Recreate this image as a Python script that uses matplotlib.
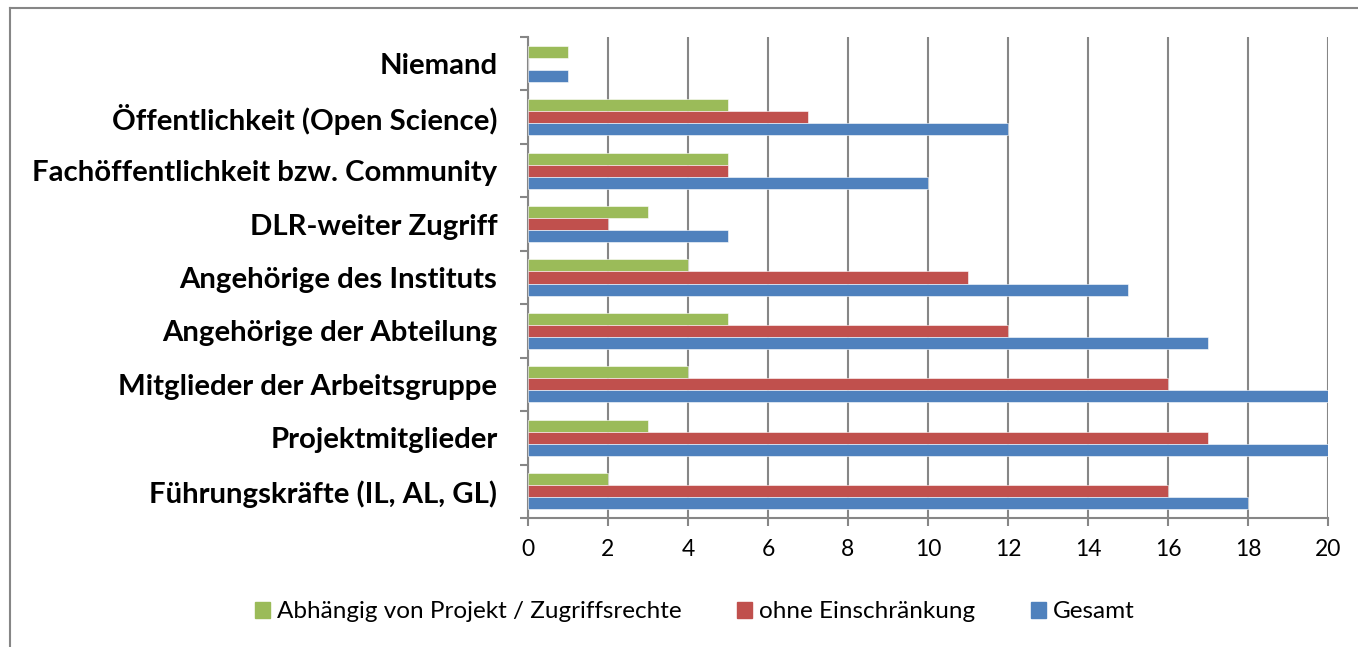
import numpy as np
import matplotlib.pyplot as plt
from matplotlib.lines import Line2D
from matplotlib.patches import Patch

# Kategorien von unten nach oben
kategorien = [
    "Führungskräfte (IL, AL, GL)",
    "Projektmitglieder",
    "Mitglieder der Arbeitsgruppe",
    "Angehörige der Abteilung",
    "Angehörige des Instituts",
    "DLR-weiter Zugriff",
    "Fachöffentlichkeit bzw. Community",
    "Öffentlichkeit (Open Science)",
    "Niemand",
]
abhaengig = [2, 3, 4, 5, 4, 3, 5, 5, 1]
ohne_einschraenkung = [16, 17, 16, 12, 11, 2, 5, 7, 0]
gesamt = [18, 20, 20, 17, 15, 5, 10, 12, 1]
x_ticks = [0, 2, 4, 6, 8, 10, 12, 14, 16, 18, 20]

GRUEN = "#9BBB59"
ROT = "#C0504D"
BLAU = "#4F81BD"
GRAU = "#868686"

plt.rcParams['font.family'] = ['Lato', 'DejaVu Sans']

fig = plt.figure(figsize=(13.58, 6.47), dpi=100)
ax = fig.add_axes([528 / 1358, 1 - 518 / 647, 800 / 1358, 481 / 647])

y = np.arange(len(kategorien))
h = 12 / 53.4

ax.barh(y + h, abhaengig, height=h, color=GRUEN, edgecolor="white", linewidth=0.4, zorder=3)
ax.barh(y, ohne_einschraenkung, height=h, color=ROT, edgecolor="white", linewidth=0.4, zorder=3)
ax.barh(y - h, gesamt, height=h, color=BLAU, edgecolor="white", linewidth=0.4, zorder=3)

ax.set_xlim(0, 20)
ax.set_ylim(-0.5, len(kategorien) - 0.5)
ax.set_xticks(x_ticks)
ax.set_xticklabels([str(t) for t in x_ticks], fontsize=16.5)
ax.tick_params(axis='x', length=6, width=1.5, color=GRAU, pad=9)

ax.set_yticks(y)
ax.set_yticklabels(kategorien, fontsize=21.2, fontweight='bold')
ax.tick_params(axis='y', which='major', length=0, pad=22)
ax.set_yticks(np.arange(-0.5, len(kategorien), 1), minor=True)
ax.tick_params(axis='y', which='minor', length=6, width=1.5, color=GRAU)

ax.grid(True, axis='x', color=GRAU, linewidth=1.5, zorder=0)
for s in ['top', 'right']:
    ax.spines[s].set_visible(False)
for s in ['left', 'bottom']:
    ax.spines[s].set_color(GRAU)
    ax.spines[s].set_linewidth(1.5)

handles = [Patch(color=GRUEN), Patch(color=ROT), Patch(color=BLAU)]
labels = ["Abhängig von Projekt / Zugriffsrechte", "ohne Einschränkung", "Gesamt"]
fig.legend(handles, labels, loc='center', bbox_to_anchor=(695 / 1358, 1 - 612 / 647),
           ncol=3, frameon=False, fontsize=17.5, handlelength=0.6, handleheight=0.6,
           handletextpad=0.3, columnspacing=2.3)

# Rahmen (oben und links)
fig.add_artist(Line2D([10 / 1358, 1], [1 - 8 / 647, 1 - 8 / 647], color=GRAU, linewidth=1.5))
fig.add_artist(Line2D([10 / 1358, 10 / 1358], [0, 1 - 8 / 647], color=GRAU, linewidth=1.5))

fig.savefig("out.png", dpi=100)
